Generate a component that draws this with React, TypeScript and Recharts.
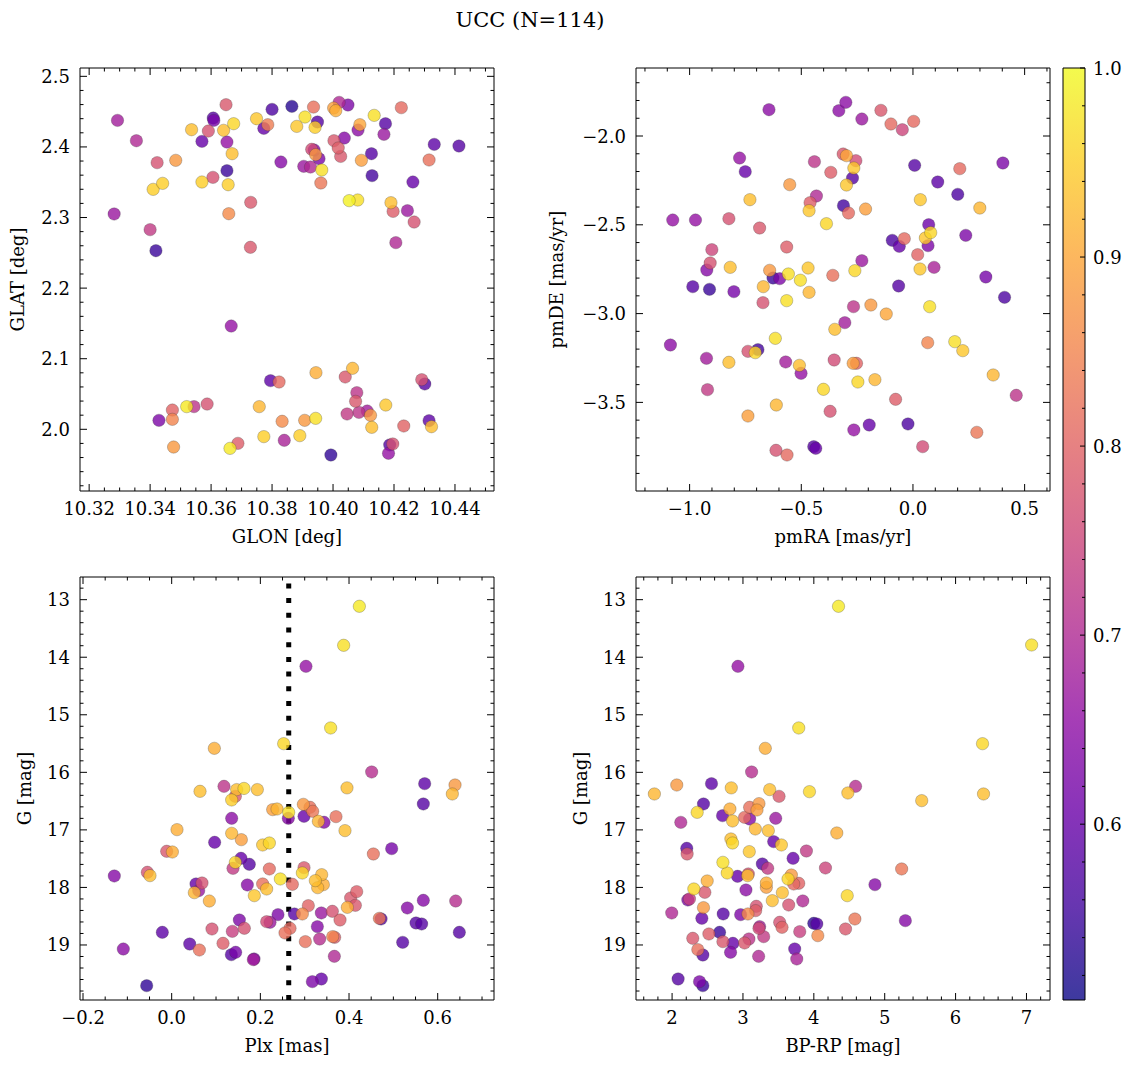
import React from 'react';
import {
  ScatterChart, Scatter, ComposedChart,
  XAxis, YAxis, ReferenceArea, ReferenceLine,
} from 'recharts';

// UCC membership plots: sky, proper motions, parallax and CMD, coloured by probability

const FONT = '"DejaVu Serif", "Liberation Serif", serif';
const FS = 18;
const PW = 414; // plot area width
const PH = 423; // plot area height

// plasma colormap anchors
const PLASMA = ['#0d0887', '#41049d', '#6a00a8', '#8f0da4', '#b12a90', '#cc4778',
  '#e16462', '#f2844b', '#fca636', '#fcce25', '#f0f921'];
const P_MIN = 0.507;
const P_MAX = 1.0;

// --- sky positions ---
const glon = [10.3293, 10.3355, 10.3282, 10.3400, 10.3419, 10.3423, 10.3484, 10.3410, 10.3441, 10.3536,
  10.3570, 10.3591, 10.3607, 10.3609, 10.3649, 10.3641, 10.3674, 10.3652, 10.3669, 10.3652,
  10.3606, 10.3570, 10.3656, 10.3658, 10.3730, 10.3729, 10.3749, 10.3786, 10.3773, 10.3800,
  10.3865, 10.3829, 10.3881, 10.3908, 10.3936, 10.3949, 10.3941, 10.3904, 10.3926, 10.3930,
  10.3938, 10.3954, 10.3943, 10.3963, 10.3960, 10.4020, 10.4049, 10.4002, 10.4009, 10.4003,
  10.4017, 10.4025, 10.4037, 10.4053, 10.4081, 10.4082, 10.4088, 10.4093, 10.4135, 10.4126,
  10.4128, 10.4172, 10.4167, 10.4190, 10.4197, 10.4224, 10.4244, 10.4206, 10.4266, 10.4262,
  10.4315, 10.4332, 10.4413,
  10.3666, 10.3429, 10.3473, 10.3473, 10.3477, 10.3520, 10.3544, 10.3587, 10.3662, 10.3688,
  10.3758, 10.3773, 10.3795, 10.3823, 10.3833, 10.3840, 10.3891, 10.3907, 10.3943, 10.3944,
  10.3993, 10.4040, 10.4064, 10.4078, 10.4074, 10.4046, 10.4085, 10.4112, 10.4123, 10.4127,
  10.4173, 10.4186, 10.4196, 10.4182, 10.4232, 10.4291, 10.4301, 10.4315, 10.4323];
const glat = [2.4376, 2.4088, 2.3050, 2.2828, 2.2530, 2.3777, 2.3810, 2.3399, 2.3484, 2.4244,
  2.4079, 2.4225, 2.4409, 2.4376, 2.4598, 2.4235, 2.4329, 2.4069, 2.3904, 2.3663,
  2.3569, 2.3503, 2.3465, 2.3054, 2.3215, 2.2578, 2.4400, 2.4315, 2.4263, 2.4532,
  2.4575, 2.3786, 2.4291, 2.4424, 2.4565, 2.4353, 2.4277, 2.3725, 2.3715, 2.3966,
  2.3956, 2.3833, 2.3890, 2.3673, 2.3489, 2.4631, 2.4594, 2.4551, 2.4513, 2.4088,
  2.3985, 2.3866, 2.4126, 2.3239, 2.3248, 2.4239, 2.4315, 2.3810, 2.4447, 2.3904,
  2.3593, 2.4329, 2.4178, 2.3210, 2.3087, 2.4556, 2.3097, 2.2644, 2.2936, 2.3503,
  2.3815, 2.4036, 2.4013,
  2.1463, 2.0127, 2.0273, 2.0141, 1.9749, 2.0321, 2.0321, 2.0358, 1.9730, 1.9801,
  2.0321, 1.9896, 2.0689, 2.0670, 2.0113, 1.9844, 1.9910, 2.0127, 2.0155, 2.0802,
  1.9636, 2.0741, 2.0864, 2.0519, 2.0396, 2.0217, 2.0240, 2.0259, 2.0198, 2.0028,
  2.0344, 1.9778, 1.9792, 1.9660, 2.0047, 2.0703, 2.0642, 2.0122, 2.0037];
const probSky = [0.68, 0.70, 0.67, 0.73, 0.55, 0.77, 0.88, 0.95, 0.95, 0.93,
  0.60, 0.77, 0.58, 0.62, 0.78, 0.93, 0.96, 0.66, 0.93, 0.55,
  0.77, 0.95, 0.95, 0.86, 0.78, 0.78, 0.94, 0.84, 0.60, 0.57,
  0.53, 0.64, 0.94, 0.97, 0.82, 0.58, 0.95, 0.67, 0.70, 0.76,
  0.64, 0.63, 0.88, 0.97, 0.83, 0.70, 0.63, 0.89, 0.91, 0.78,
  0.79, 0.78, 0.64, 0.99, 0.97, 0.65, 0.90, 0.89, 0.97, 0.58,
  0.56, 0.58, 0.67, 0.93, 0.79, 0.81, 0.67, 0.70, 0.77, 0.60,
  0.82, 0.59, 0.58,
  0.66, 0.63, 0.80, 0.85, 0.88, 0.98, 0.72, 0.77, 0.98, 0.79,
  0.92, 0.95, 0.59, 0.81, 0.86, 0.69, 0.95, 0.88, 0.97, 0.91,
  0.54, 0.78, 0.92, 0.72, 0.78, 0.73, 0.72, 0.68, 0.88, 0.93,
  0.94, 0.58, 0.77, 0.66, 0.80, 0.77, 0.58, 0.59, 0.93];

// --- proper motions ---
const pmra = [-0.6447, -0.3320, -0.3006, -0.2288, -0.1435, -0.0986, -0.0477, 0.0031, -0.7763, -0.7509,
  -0.4412, -0.3679, -0.3126, -0.2976, -0.2557, -0.2647, -0.2707, -0.2976, -0.5519, -0.7300,
  -0.4322, -0.4607, -0.4652, -0.3874, -0.3111, -0.2886, -0.2123, 0.0076, 0.1109, 0.2006,
  0.2096, 0.4026, 0.0331, 0.2994, -1.0756, -0.9738, -0.8242, -0.6866, 0.0705, 0.0794,
  0.0555, 0.0675, -0.0926, -0.0612, -0.0388, 0.0211, 0.2365, -0.9005, -0.9080, -0.9230,
  -0.8182, -0.5654, -0.2288, 0.0316, 0.0944, 0.3263, -0.9858, -0.9110, -0.8018, -0.6701,
  -0.6267, -0.5968, -0.5040, -0.4652, -0.3589, -0.0642, 0.4101, -0.6417, -0.5579, -0.4696,
  -0.2602, -0.6716, -0.5654, -0.2662, -0.1884, -0.1196, 0.0749, -0.3051, -0.3499, -1.0860,
  -0.9245, -0.8242, -0.7389, -0.6941, -0.7060, -0.6163, -0.5699, -0.5085, -0.5011, -0.3529,
  -0.2677, -0.2527, -0.2467, -0.1704, -0.4008, 0.0660, 0.1872, 0.2231, 0.3592, -0.9200,
  -0.6118, -0.7389, -0.3709, -0.0777, 0.4624, -0.2647, -0.1959, -0.0223, 0.2859, -0.4442,
  -0.4352, -0.6133, -0.5639, 0.0435];
const pmde = [-1.8517, -1.8574, -1.8104, -1.9043, -1.8555, -1.9324, -1.9644, -1.9174, -2.1239, -2.2008,
  -2.1445, -2.2046, -2.1014, -2.1107, -2.1389, -2.1802, -2.2365, -2.2759, -2.2740, -2.3585,
  -2.3378, -2.3754, -2.4204, -2.4936, -2.3923, -2.4336, -2.4111, -2.1652, -2.2590, -2.3285,
  -2.1839, -2.1520, -2.3585, -2.4054, -2.4730, -2.4730, -2.4655, -2.5180, -2.4993, -2.5443,
  -2.5743, -2.6175, -2.5875, -2.6213, -2.5781, -2.6682, -2.5593, -2.6400, -2.7151, -2.7545,
  -2.7395, -2.6250, -2.7020, -2.7489, -2.7395, -2.7939, -2.8484, -2.8634, -2.8765, -2.8484,
  -2.7996, -2.8033, -2.8120, -2.8803, -2.7846, -2.8446, -2.9084, -2.7564, -2.7770, -2.7433,
  -2.7583, -2.9384, -2.9272, -2.9610, -2.9516, -3.0023, -2.9610, -3.0511, -3.0886, -3.1768,
  -3.2519, -3.2744, -3.2125, -3.2031, -3.2200, -3.1393, -3.2725, -3.2913, -3.3363, -3.2613,
  -3.2800, -3.2800, -3.3851, -3.3720, -3.4264, -3.1637, -3.1580, -3.2087, -3.3457, -3.4283,
  -3.5147, -3.5766, -3.5503, -3.4827, -3.4602, -3.6554, -3.6273, -3.6216, -3.6686, -3.7493,
  -3.7586, -3.7699, -3.7962, -3.7493];
const probPm = [0.65, 0.65, 0.65, 0.67, 0.78, 0.81, 0.75, 0.81, 0.66, 0.60,
  0.72, 0.79, 0.78, 0.90, 0.76, 0.94, 0.58, 0.94, 0.88, 0.93,
  0.70, 0.79, 0.94, 0.96, 0.56, 0.81, 0.89, 0.58, 0.59, 0.57,
  0.81, 0.63, 0.94, 0.92, 0.66, 0.66, 0.77, 0.78, 0.61, 0.96,
  0.94, 0.63, 0.57, 0.60, 0.81, 0.80, 0.63, 0.75, 0.77, 0.64,
  0.93, 0.79, 0.67, 0.94, 0.69, 0.62, 0.58, 0.55, 0.62, 0.92,
  0.55, 0.63, 0.97, 0.92, 0.82, 0.58, 0.57, 0.88, 0.97, 0.94,
  0.96, 0.77, 0.97, 0.72, 0.88, 0.90, 0.97, 0.68, 0.93, 0.65,
  0.68, 0.93, 0.77, 0.56, 0.96, 0.97, 0.68, 0.93, 0.66, 0.76,
  0.89, 0.80, 0.96, 0.92, 0.96, 0.85, 0.97, 0.94, 0.92, 0.73,
  0.92, 0.89, 0.77, 0.79, 0.72, 0.66, 0.60, 0.57, 0.83, 0.58,
  0.60, 0.77, 0.81, 0.76];

// --- parallax vs G ---
const plx = [0.4233, 0.3879, 0.3029, 0.3586, 0.2526, 0.0962, 0.4511, 0.5706, 0.6391, 0.0639,
  0.1180, 0.1466, 0.1631, 0.1932, 0.3954, 0.6330, 0.5676, 0.1353, 0.1436, 0.2278,
  0.2376, 0.2639, 0.2631, 0.2970, 0.3120, 0.3180, 0.2985, 0.3308, 0.3436, 0.3706,
  0.3909, 0.1353, 0.0120, 0.1353, 0.1571, 0.0969, 0.2052, 0.2203, -0.0113, 0.0015,
  0.4549, 0.4962, 0.1563, 0.1751, 0.1436, 0.1383, 0.2203, 0.2985, 0.2947, 0.3383,
  0.3240, 0.3421, 0.3293, 0.2451, 0.2722, 0.2052, 0.2142, 0.1706, 0.1864, -0.0549,
  -0.0489, -0.1294, 0.0549, 0.0684, 0.0511, 0.0849, 0.0609, 0.4173, 0.4037, 0.4143,
  0.3962, 0.3082, 0.2947, 0.2767, 0.2398, 0.3375, 0.3624, 0.3797, 0.2218, 0.2142,
  0.1526, 0.1639, 0.0909, 0.1368, 0.1158, 0.0624, 0.0406, 0.1346, 0.1443, 0.1842,
  0.1857, -0.0211, -0.1091, -0.0564, 0.2556, 0.2669, 0.3015, 0.3286, 0.3338, 0.3631,
  0.3676, 0.3669, 0.3173, 0.3376, 0.4684, 0.4722, 0.5315, 0.5676, 0.6406, 0.5511,
  0.5638, 0.5210, 0.6488];
const gPlx = [13.115, 13.793, 14.158, 15.229, 15.502, 15.583, 15.994, 16.197, 16.220, 16.330,
  16.243, 16.300, 16.280, 16.300, 16.270, 16.376, 16.550, 16.480, 16.417, 16.648,
  16.637, 16.695, 16.799, 16.556, 16.608, 16.677, 16.764, 16.851, 16.868, 16.770,
  17.013, 16.799, 16.996, 17.060, 17.170, 17.216, 17.262, 17.228, 17.372, 17.384,
  17.419, 17.326, 17.494, 17.598, 17.564, 17.668, 17.679, 17.656, 17.749, 17.778,
  17.882, 17.952, 18.004, 17.853, 17.946, 17.940, 18.027, 17.957, 18.143, 17.737,
  17.795, 17.801, 17.940, 17.923, 18.091, 18.236, 18.056, 18.073, 18.183, 18.311,
  18.346, 18.317, 18.461, 18.461, 18.473, 18.444, 18.415, 18.566, 18.606, 18.595,
  18.566, 18.710, 18.722, 18.763, 18.971, 19.087, 18.983, 19.168, 19.127, 19.255,
  19.243, 18.780, 19.070, 19.707, 18.791, 18.710, 18.942, 18.681, 18.896, 18.855,
  18.867, 19.197, 19.637, 19.591, 18.537, 18.548, 18.357, 18.224, 18.236, 18.618,
  18.635, 18.954, 18.780];
const probPlx = [0.98, 0.97, 0.66, 0.97, 0.96, 0.91, 0.71, 0.59, 0.88, 0.93,
  0.72, 0.93, 0.96, 0.93, 0.93, 0.92, 0.58, 0.95, 0.78, 0.89,
  0.92, 0.97, 0.64, 0.88, 0.82, 0.83, 0.60, 0.92, 0.64, 0.82,
  0.93, 0.65, 0.91, 0.92, 0.89, 0.60, 0.94, 0.96, 0.78, 0.91,
  0.82, 0.62, 0.60, 0.58, 0.96, 0.73, 0.81, 0.78, 0.96, 0.92,
  0.93, 0.91, 0.92, 0.97, 0.81, 0.82, 0.93, 0.64, 0.94, 0.77,
  0.93, 0.64, 0.60, 0.77, 0.92, 0.91, 0.67, 0.79, 0.78, 0.78,
  0.91, 0.80, 0.86, 0.58, 0.63, 0.67, 0.77, 0.79, 0.67, 0.76,
  0.63, 0.77, 0.77, 0.74, 0.79, 0.82, 0.59, 0.58, 0.62, 0.68,
  0.63, 0.59, 0.65, 0.54, 0.82, 0.81, 0.82, 0.64, 0.71, 0.85,
  0.79, 0.70, 0.63, 0.60, 0.83, 0.58, 0.64, 0.64, 0.71, 0.58,
  0.58, 0.58, 0.58];
const plxRef = 0.264;

// --- colour-magnitude ---
const bprp = [4.348, 7.073, 2.929, 3.787, 6.380, 3.315, 3.122, 2.556, 2.066, 1.750,
  2.835, 3.377, 3.938, 4.480, 4.589, 6.394, 3.509, 5.522, 2.443, 2.354,
  2.123, 2.712, 2.816, 2.853, 3.094, 3.226, 3.198, 3.023, 3.094, 3.462,
  3.174, 3.358, 4.324, 2.830, 2.853, 3.433, 3.542, 2.207, 2.212, 3.089,
  3.895, 3.707, 3.273, 3.349, 4.164, 5.239, 2.717, 2.778, 2.924, 3.075,
  3.066, 2.495, 2.307, 2.462, 2.245, 2.222, 3.042, 3.330, 3.330, 3.556,
  3.414, 3.636, 3.683, 3.716, 3.787, 3.645, 3.844, 4.471, 4.862, 2.443,
  1.995, 2.420, 2.721, 2.967, 3.070, 3.188, 3.179, 3.235, 3.226, 3.292,
  3.518, 3.551, 3.801, 3.999, 4.042, 4.056, 4.447, 4.579, 5.291, 2.292,
  2.519, 2.670, 2.717, 2.858, 3.023, 3.084, 2.363, 2.434, 2.825, 3.221,
  3.730, 3.759, 2.085, 2.387, 2.434];
const gCmd = [13.115, 13.787, 14.158, 15.229, 15.502, 15.583, 15.994, 16.197, 16.220, 16.376,
  16.270, 16.300, 16.336, 16.359, 16.243, 16.376, 16.417, 16.492, 16.550, 16.695,
  16.869, 16.753, 16.637, 16.845, 16.608, 16.544, 16.654, 16.782, 16.811, 16.799,
  16.984, 17.013, 17.054, 17.158, 17.228, 17.204, 17.262, 17.320, 17.419, 17.378,
  17.367, 17.494, 17.592, 17.668, 17.662, 17.679, 17.564, 17.749, 17.807, 17.766,
  17.795, 17.888, 18.027, 18.085, 18.201, 18.218, 18.044, 17.923, 17.998, 18.091,
  18.230, 17.853, 17.784, 17.940, 17.928, 18.305, 18.235, 18.143, 17.952, 18.351,
  18.444, 18.536, 18.461, 18.473, 18.461, 18.328, 18.403, 18.681, 18.710, 18.855,
  18.606, 18.693, 18.768, 18.623, 18.635, 18.838, 18.722, 18.548, 18.577, 18.884,
  18.809, 18.780, 18.942, 18.971, 18.965, 18.896, 19.081, 19.174, 19.127, 19.197,
  19.069, 19.243, 19.591, 19.637, 19.707];
const probCmd = [0.98, 0.97, 0.66, 0.97, 0.96, 0.91, 0.71, 0.59, 0.88, 0.92,
  0.93, 0.93, 0.96, 0.93, 0.71, 0.93, 0.78, 0.93, 0.58, 0.96,
  0.70, 0.60, 0.91, 0.93, 0.82, 0.88, 0.89, 0.81, 0.64, 0.67,
  0.92, 0.93, 0.91, 0.93, 0.96, 0.60, 0.94, 0.58, 0.78, 0.94,
  0.73, 0.60, 0.58, 0.73, 0.75, 0.83, 0.97, 0.96, 0.60, 0.77,
  0.93, 0.91, 0.96, 0.78, 0.74, 0.63, 0.65, 0.91, 0.89, 0.93,
  0.93, 0.96, 0.88, 0.81, 0.80, 0.77, 0.70, 0.96, 0.64, 0.88,
  0.70, 0.60, 0.58, 0.63, 0.86, 0.77, 0.79, 0.68, 0.76, 0.73,
  0.77, 0.80, 0.74, 0.54, 0.58, 0.86, 0.78, 0.83, 0.64, 0.78,
  0.79, 0.55, 0.78, 0.60, 0.78, 0.72, 0.82, 0.58, 0.64, 0.70,
  0.60, 0.69, 0.58, 0.63, 0.55];

// axis tick marks and labels
const glonTicks = [10.32, 10.34, 10.36, 10.38, 10.40, 10.42, 10.44];
const glonLabels = ['10.32', '10.34', '10.36', '10.38', '10.40', '10.42', '10.44'];
const glatTicks = [2.0, 2.1, 2.2, 2.3, 2.4, 2.5];
const glatLabels = ['2.0', '2.1', '2.2', '2.3', '2.4', '2.5'];
const pmraTicks = [-1.0, -0.5, 0.0, 0.5];
const pmraLabels = ['\u22121.0', '\u22120.5', '0.0', '0.5'];
const pmdeTicks = [-3.5, -3.0, -2.5, -2.0];
const pmdeLabels = ['\u22123.5', '\u22123.0', '\u22122.5', '\u22122.0'];
const plxTicks = [-0.2, 0.0, 0.2, 0.4, 0.6];
const plxLabels = ['\u22120.2', '0.0', '0.2', '0.4', '0.6'];
const gTicks = [13, 14, 15, 16, 17, 18, 19];
const gLabels = ['13', '14', '15', '16', '17', '18', '19'];
const bprpTicks = [2, 3, 4, 5, 6, 7];
const bprpLabels = ['2', '3', '4', '5', '6', '7'];
const cbTicks = [0.6, 0.7, 0.8, 0.9, 1.0];
const cbLabels = ['0.6', '0.7', '0.8', '0.9', '1.0'];

type Pt = { x: number; y: number; p: number };
type Spec = { majors: number[]; labels: string[]; step: number };

function hexRgb(h: string) {
  return [1, 3, 5].map((i) => parseInt(h.slice(i, i + 2), 16));
}

function plasma(p: number) {
  const t = Math.min(1, Math.max(0, (p - P_MIN) / (P_MAX - P_MIN))) * 10;
  const i = Math.min(9, Math.floor(t));
  const f = t - i;
  const a = hexRgb(PLASMA[i]);
  const b = hexRgb(PLASMA[i + 1]);
  const c = a.map((v, k) => Math.round(v + (b[k] - v) * f));
  return `rgb(${c[0]},${c[1]},${c[2]})`;
}

// all tick positions (minor + major) inside a domain
function allTicks(domain: number[], step: number) {
  const out: number[] = [];
  const lo = Math.ceil(domain[0] / step - 1e-6);
  const hi = Math.floor(domain[1] / step + 1e-6);
  for (let k = lo; k <= hi; k++) out.push(Number((k * step).toFixed(6)));
  return out;
}

function majorIndex(v: number, majors: number[]) {
  return majors.findIndex((m) => Math.abs(m - v) < 1e-6);
}

function buildPoints(xs: number[], ys: number[], ps: number[]): Pt[] {
  return xs.map((x, i) => ({ x, y: ys[i], p: ps[i] })).sort((a, b) => a.p - b.p);
}

const Dot = (props: any) => (
  <circle
    cx={props.cx}
    cy={props.cy}
    r={6.2}
    fill={plasma(props.payload.p)}
    fillOpacity={0.8}
    stroke="#333"
    strokeOpacity={0.45}
    strokeWidth={0.6}
  />
);

interface PanelProps {
  left: number;
  top: number;
  points: Pt[];
  xDomain: number[];
  yDomain: number[];
  xSpec: Spec;
  ySpec: Spec;
  xTitle: string;
  yTitle: string;
  yTitleOffset: number;
  reversed?: boolean;
  refX?: number;
}

function Panel({ left, top, points, xDomain, yDomain, xSpec, ySpec, xTitle, yTitle, yTitleOffset, reversed, refX }: PanelProps) {
  const textStyle = { fontSize: FS, fontFamily: FONT, fill: '#000' };

  const renderX = (t: any) => {
    const i = majorIndex(t.payload.value, xSpec.majors);
    const len = i >= 0 ? 7 : 3.5;
    return (
      <g>
        <line x1={t.x} x2={t.x} y1={t.y} y2={t.y - len} stroke="#000" strokeWidth={1} />
        <line x1={t.x} x2={t.x} y1={t.y - PH} y2={t.y - PH + len} stroke="#000" strokeWidth={1} />
        {i >= 0 && (
          <text x={t.x} y={t.y + 24} textAnchor="middle" {...textStyle}>{xSpec.labels[i]}</text>
        )}
      </g>
    );
  };

  const renderY = (t: any) => {
    const i = majorIndex(t.payload.value, ySpec.majors);
    const len = i >= 0 ? 7 : 3.5;
    return (
      <g>
        <line x1={t.x} x2={t.x + len} y1={t.y} y2={t.y} stroke="#000" strokeWidth={1} />
        <line x1={t.x + PW} x2={t.x + PW - len} y1={t.y} y2={t.y} stroke="#000" strokeWidth={1} />
        {i >= 0 && (
          <text x={t.x - 10} y={t.y + 6.5} textAnchor="end" {...textStyle}>{ySpec.labels[i]}</text>
        )}
      </g>
    );
  };

  return (
    <div style={{ position: 'absolute', left: left - 100, top: top - 40 }}>
      <ScatterChart
        width={PW + 130}
        height={PH + 150}
        margin={{ top: 40, right: 30, bottom: 50, left: 40 }}
      >
        <XAxis
          type="number"
          dataKey="x"
          domain={xDomain}
          allowDataOverflow
          ticks={allTicks(xDomain, xSpec.step)}
          interval={0}
          tickSize={0}
          tickMargin={0}
          tickLine={false}
          axisLine={false}
          height={60}
          tick={renderX}
          label={{ value: xTitle, position: 'insideBottom', offset: 8, ...textStyle }}
        />
        <YAxis
          type="number"
          dataKey="y"
          domain={yDomain}
          allowDataOverflow
          reversed={reversed}
          ticks={allTicks(yDomain, ySpec.step)}
          interval={0}
          tickSize={0}
          tickMargin={0}
          tickLine={false}
          axisLine={false}
          width={60}
          tick={renderY}
          label={{
            value: yTitle, angle: -90, position: 'insideLeft', offset: yTitleOffset,
            style: { textAnchor: 'middle' }, ...textStyle,
          }}
        />
        {refX !== undefined && (
          <ReferenceLine x={refX} stroke="#000" strokeWidth={5} strokeDasharray="5 9.7" />
        )}
        <Scatter data={points} shape={Dot} isAnimationActive={false} />
        <ReferenceArea
          x1={xDomain[0]} x2={xDomain[1]} y1={yDomain[0]} y2={yDomain[1]}
          fill="none" stroke="#000" strokeWidth={1}
        />
      </ScatterChart>
    </div>
  );
}

function Colorbar() {
  const ticks = allTicks([P_MIN, P_MAX], 0.02);
  const renderTick = (t: any) => {
    const i = majorIndex(t.payload.value, cbTicks);
    const len = i >= 0 ? 5 : 3;
    return (
      <g>
        <line x1={t.x - len} x2={t.x} y1={t.y} y2={t.y} stroke="#000" strokeWidth={1} />
        {i >= 0 && (
          <text x={t.x + 8} y={t.y + 6.5} fontSize={FS} fontFamily={FONT} fill="#000">{cbLabels[i]}</text>
        )}
      </g>
    );
  };
  return (
    <div style={{ position: 'absolute', left: 1063 - 10, top: 68 - 10 }}>
      <ComposedChart width={10 + 22 + 60} height={932 + 20} margin={{ top: 10, right: 0, bottom: 10, left: 10 }}>
        <XAxis type="number" dataKey="x" domain={[0, 1]} allowDataOverflow hide />
        <YAxis
          type="number"
          orientation="right"
          domain={[P_MIN, P_MAX]}
          allowDataOverflow
          ticks={ticks}
          interval={0}
          tickSize={0}
          tickMargin={0}
          tickLine={false}
          axisLine={false}
          width={60}
          tick={renderTick}
        />
        <ReferenceArea
          x1={0} x2={1} y1={P_MIN} y2={P_MAX}
          fill="url(#plasmaBar)" fillOpacity={1} stroke="#000" strokeWidth={1}
        />
      </ComposedChart>
    </div>
  );
}

export default function App() {
  const skyPts = buildPoints(glon, glat, probSky);
  const pmPts = buildPoints(pmra, pmde, probPm);
  const plxPts = buildPoints(plx, gPlx, probPlx);
  const cmdPts = buildPoints(bprp, gCmd, probCmd);
  const gDomain = [12.606, 19.956];

  return (
    <div style={{ position: 'absolute', left: 0, top: 0, width: 1136, height: 1067, background: '#fff', overflow: 'hidden' }}>
      <svg width={0} height={0} style={{ position: 'absolute' }}>
        <defs>
          <linearGradient id="plasmaBar" x1="0" y1="1" x2="0" y2="0">
            {PLASMA.map((c, i) => (
              <stop key={i} offset={i / 10} stopColor={c} stopOpacity={0.8} />
            ))}
          </linearGradient>
        </defs>
      </svg>
      <div
        style={{
          position: 'absolute', left: 380, top: 7, width: 300, textAlign: 'center',
          fontFamily: FONT, fontSize: 21, lineHeight: '26px', color: '#000',
        }}
      >
        UCC (N=114)
      </div>
      <Panel
        left={80} top={68} points={skyPts}
        xDomain={[10.3170, 10.4528]} yDomain={[1.9126, 2.5118]}
        xSpec={{ majors: glonTicks, labels: glonLabels, step: 0.005 }}
        ySpec={{ majors: glatTicks, labels: glatLabels, step: 0.02 }}
        xTitle="GLON [deg]" yTitle="GLAT [deg]" yTitleOffset={-2}
      />
      <Panel
        left={636} top={68} points={pmPts}
        xDomain={[-1.2401, 0.6136]} yDomain={[-3.999, -1.617]}
        xSpec={{ majors: pmraTicks, labels: pmraLabels, step: 0.1 }}
        ySpec={{ majors: pmdeTicks, labels: pmdeLabels, step: 0.1 }}
        xTitle="pmRA [mas/yr]" yTitle="pmDE [mas/yr]" yTitleOffset={-19}
      />
      <Panel
        left={80} top={577} points={plxPts}
        xDomain={[-0.2068, 0.7270]} yDomain={gDomain} reversed
        xSpec={{ majors: plxTicks, labels: plxLabels, step: 0.05 }}
        ySpec={{ majors: gTicks, labels: gLabels, step: 0.2 }}
        xTitle="Plx [mas]" yTitle="G [mag]" yTitleOffset={5}
        refX={plxRef}
      />
      <Panel
        left={636} top={577} points={cmdPts}
        xDomain={[1.4908, 7.332]} yDomain={gDomain} reversed
        xSpec={{ majors: bprpTicks, labels: bprpLabels, step: 0.2 }}
        ySpec={{ majors: gTicks, labels: gLabels, step: 0.2 }}
        xTitle="BP-RP [mag]" yTitle="G [mag]" yTitleOffset={5}
      />
      <Colorbar />
    </div>
  );
}
